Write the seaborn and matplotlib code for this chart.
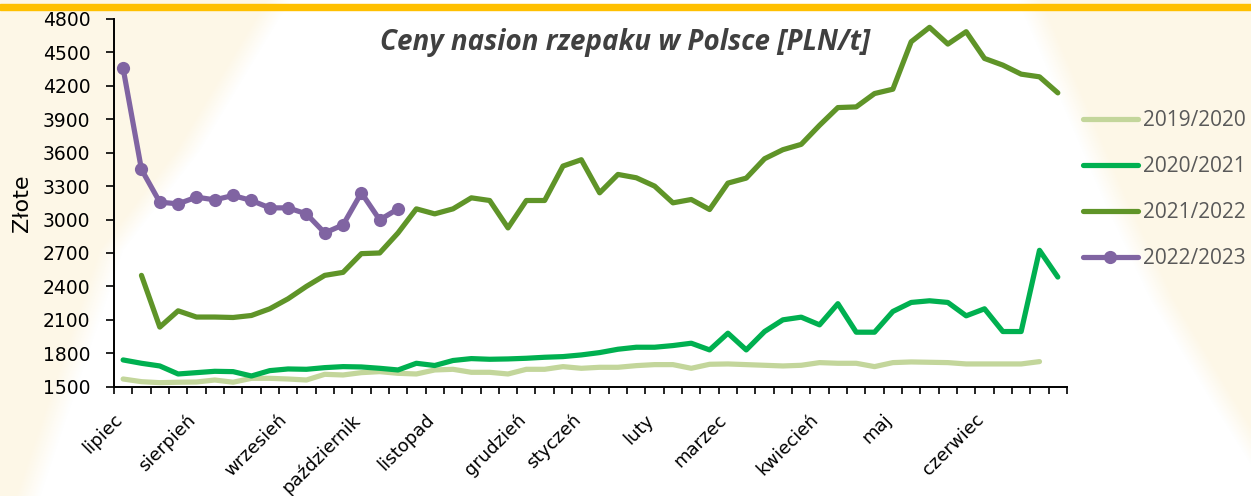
import numpy as np
import pandas as pd
import matplotlib

matplotlib.use("Agg")
import matplotlib.pyplot as plt
from matplotlib.patches import Rectangle
from matplotlib.transforms import ScaledTranslation
import seaborn as sns

# weekly prices, week index 0 = first week of July
SEASONS = ["2019/2020", "2020/2021", "2021/2022", "2022/2023"]
START_WEEK = [0, 0, 1, 0]

PRICES_2019_2020 = [
    1569, 1545, 1536, 1540, 1542, 1560, 1540, 1575, 1575, 1569,
    1560, 1611, 1605, 1626, 1635, 1620, 1614, 1650, 1656, 1629,
    1629, 1614, 1656, 1656, 1680, 1665, 1674, 1674, 1689, 1698,
    1698, 1665, 1701, 1704, 1698, 1692, 1686, 1692, 1716, 1710,
    1710, 1680, 1716, 1722, 1719, 1716, 1704, 1704, 1704, 1704,
    1725,
]
PRICES_2020_2021 = [
    1740, 1710, 1686, 1614, 1626, 1638, 1635, 1596, 1644, 1659,
    1656, 1671, 1680, 1677, 1665, 1650, 1710, 1690, 1735, 1752,
    1746, 1749, 1755, 1764, 1770, 1785, 1806, 1836, 1854, 1854,
    1869, 1890, 1830, 1980, 1830, 1995, 2100, 2124, 2055, 2245,
    1989, 1989, 2175, 2256, 2271, 2256, 2136, 2199, 1995, 1995,
    2724, 2484,
]
PRICES_2021_2022 = [
    2499, 2035, 2181, 2125, 2125, 2121, 2139, 2199, 2289,
    2400, 2499, 2526, 2694, 2700, 2880, 3096, 3051, 3096, 3195,
    3171, 2925, 3171, 3171, 3480, 3537, 3240, 3405, 3375, 3300,
    3150, 3180, 3090, 3327, 3372, 3546, 3627, 3675, 3846, 4005,
    4011, 4131, 4170, 4596, 4725, 4575, 4686, 4446, 4386, 4305,
    4281, 4137,
]
PRICES_2022_2023 = [
    4356, 3450, 3156, 3141, 3201, 3177, 3216, 3171, 3105, 3105,
    3051, 2880, 2952, 3240, 2997, 3096,
]

MONTH_LABELS = [
    "lipiec", "sierpień", "wrzesień", "październik", "listopad", "grudzień",
    "styczeń", "luty", "marzec", "kwiecień", "maj", "czerwiec",
]
MONTH_WEEKS = [0, 4, 9, 13, 17, 22, 25, 29, 33, 38, 42, 47]
WEEK_COUNT = 52
Y_TICKS = list(range(1500, 4801, 300))

COLORS = ["#C3D69B", "#00B050", "#5F9428", "#8064A2"]
MARKERS = [None, None, None, "o"]


def _build_frame() -> pd.DataFrame:
    frames = []
    for season, start, prices in zip(
        SEASONS, START_WEEK, [PRICES_2019_2020, PRICES_2020_2021, PRICES_2021_2022, PRICES_2022_2023]
    ):
        frames.append(
            pd.DataFrame({"Season": season, "Week": np.arange(start, start + len(prices)), "Price": prices})
        )
    return pd.concat(frames, ignore_index=True)


def _background(fig: plt.Figure) -> None:
    # cream slide corners around a white centre, orange rule at the top
    h, w = 496, 1251
    yy, xx = np.mgrid[0:h, 0:w]
    left_edge = np.interp(yy, [0, 150, 250, 496], [290, 200, 123, 40])
    right_edge = np.interp(yy, [0, 100, 200, 300, 400, 496], [1017, 1060, 1103, 1150, 1210, 1270])
    dist = np.maximum(left_edge - xx, xx - right_edge)
    t = np.clip(dist / 25.0, 0, 1)[..., None]
    cream = np.array([253, 247, 231]) / 255
    img = (1 - t) * np.ones(3) + t * cream
    bg = fig.add_axes([0, 0, 1, 1], zorder=-10)
    bg.imshow(img, aspect="auto", extent=(0, 1, 0, 1), origin="upper")
    bg.set_axis_off()
    fig.patches.append(
        Rectangle((0, 1 - 10 / 496), 1, 6 / 496, transform=fig.transFigure, color="#FFC000", zorder=5)
    )


df = _build_frame()

sns.set_style("ticks")
plt.rcParams["font.family"] = ["DejaVu Sans"]

fig = plt.figure(figsize=(12.51, 4.96), dpi=100, facecolor="white")
_background(fig)
ax = fig.add_axes([0.0911, 0.2204, 0.7618, 0.7413])
ax.set_facecolor("none")

for season, color, marker in zip(SEASONS, COLORS, MARKERS):
    sns.lineplot(
        data=df.loc[df["Season"] == season],
        x="Week",
        y="Price",
        color=color,
        linewidth=3.75,
        marker=marker,
        markersize=9.5,
        markeredgewidth=0,
        solid_capstyle="round",
        solid_joinstyle="round",
        label=season,
        ax=ax,
    )

ax.set_xlim(-0.5, WEEK_COUNT - 0.5)
ax.set_ylim(Y_TICKS[0], Y_TICKS[-1])
ax.set_yticks(Y_TICKS)
ax.set_xticks(np.arange(-0.5, WEEK_COUNT, 1))
ax.set_xticklabels([])
ax.tick_params(axis="x", which="major", length=5, width=1.2, color="black", direction="out")
ax.tick_params(axis="y", length=6, width=1.2, color="black", pad=11, labelsize=13.5, labelcolor="black")

# month names sit under the week where the month starts, rotated like Excel does
label_shift = ScaledTranslation(-10 / 100, -24 / 100, fig.dpi_scale_trans)
for week, name in zip(MONTH_WEEKS, MONTH_LABELS):
    ax.text(
        week,
        0,
        name,
        transform=ax.get_xaxis_transform() + label_shift,
        rotation=45,
        rotation_mode="anchor",
        ha="right",
        va="top",
        fontsize=13,
        color="black",
    )

ax.set_xlabel("")
ax.set_ylabel("Złote", fontsize=16, color="black", labelpad=8)
for side in ["top", "right"]:
    ax.spines[side].set_visible(False)
for side in ["left", "bottom"]:
    ax.spines[side].set_color("black")
    ax.spines[side].set_linewidth(1.4)
ax.grid(False)

handles, labels = ax.get_legend_handles_labels()
if ax.get_legend() is not None:
    ax.get_legend().remove()
fig.legend(
    handles,
    labels,
    loc="center left",
    bbox_to_anchor=(0.866, 0.617),
    frameon=False,
    borderpad=0,
    borderaxespad=0,
    handlelength=2.6,
    handletextpad=0.25,
    labelspacing=1.2,
    prop={"family": ["Open Sans", "DejaVu Sans"], "size": 15},
    labelcolor="#595959",
)

fig.text(
    0.5,
    0.915,
    "Ceny nasion rzepaku w Polsce [PLN/t]",
    ha="center",
    va="center",
    fontsize=20,
    fontweight="bold",
    fontstyle="italic",
    family=["Open Sans", "DejaVu Sans"],
    color="#404040",
)

fig.savefig("out.png", dpi=100)
plt.close(fig)
